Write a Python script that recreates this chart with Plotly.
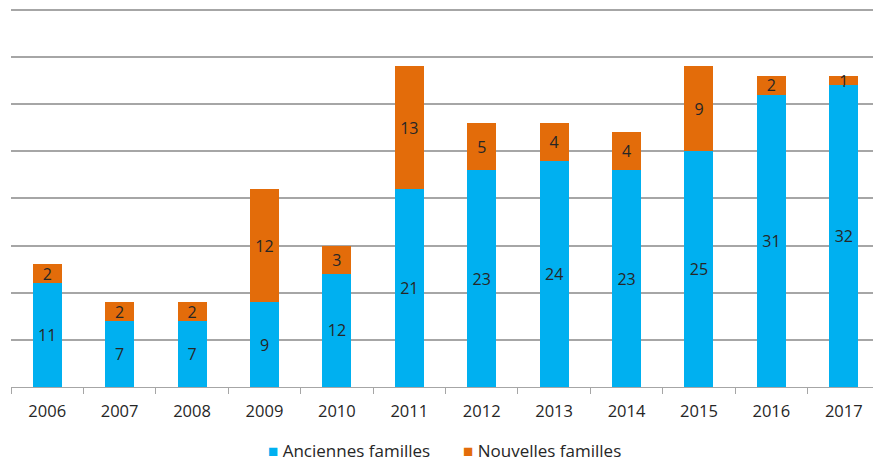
import plotly.graph_objects as go

years = ["2006", "2007", "2008", "2009", "2010", "2011", "2012", "2013", "2014", "2015", "2016", "2017"]
anciennes = [11, 7, 7, 9, 12, 21, 23, 24, 23, 25, 31, 32]
nouvelles = [2, 2, 2, 12, 3, 13, 5, 4, 4, 9, 2, 1]
series_names = ["Anciennes familles", "Nouvelles familles"]

blue = "#00B0F0"
orange = "#E36C0A"
txt = "#262626"
font_family = "Open Sans, Lato, sans-serif"

# page body adds an 8px offset; compensate so the chart lands where the original is
OFF = 8
W, H = 881 - OFF, 461 - OFF
plot_left, plot_right = 11 - OFF, 880 - OFF
plot_top, plot_bottom = 8 - OFF, 387 - OFF
plot_w = plot_right - plot_left
plot_h = plot_bottom - plot_top

fig = go.Figure()
for name, vals, col in [(series_names[0], anciennes, blue), (series_names[1], nouvelles, orange)]:
    fig.add_trace(go.Bar(
        x=years, y=vals, name=name,
        marker=dict(color=col, line=dict(width=0)),
        text=[str(v) for v in vals], textposition="inside", textangle=0,
        insidetextanchor="middle", constraintext="none",
        textfont=dict(color=txt, size=16, family=font_family),
        showlegend=False,
    ))

leg_y = (plot_bottom - (450 - OFF)) / plot_h

# Legend drawn as text entries (real text) matching the compact original layout
for name, col, xpix in [(series_names[0], blue, 266), (series_names[1], orange, 461)]:
    fig.add_annotation(
        text=f"<span style='color:{col}'>■</span> {name}",
        xref="paper", yref="paper", x=(xpix - OFF - plot_left) / plot_w, y=leg_y,
        xanchor="left", yanchor="middle", showarrow=False,
        font=dict(size=17, color=txt, family=font_family),
    )

fig.update_layout(
    barmode="stack",
    bargap=0.6,
    width=W, height=H,
    margin=dict(l=plot_left, r=W - plot_right, t=plot_top, b=H - plot_bottom, pad=0, autoexpand=False),
    plot_bgcolor="white", paper_bgcolor="white",
    font=dict(family=font_family, color=txt, size=16),
    showlegend=False,
    xaxis=dict(
        showline=True, linecolor="#A6A6A6", linewidth=1,
        ticks="outside", tickson="boundaries", ticklen=6, tickcolor="#A6A6A6",
        tickfont=dict(size=16.5, color=txt), showgrid=False,
        ticklabelstandoff=9,
    ),
    yaxis=dict(
        range=[0, 40.2], tickvals=[0, 5, 10, 15, 20, 25, 30, 35, 40], showticklabels=False,
        showgrid=True, gridcolor="#A6A6A6", gridwidth=1.5,
        zeroline=False, showline=False,
    ),
)

fig.write_html("out.html")
